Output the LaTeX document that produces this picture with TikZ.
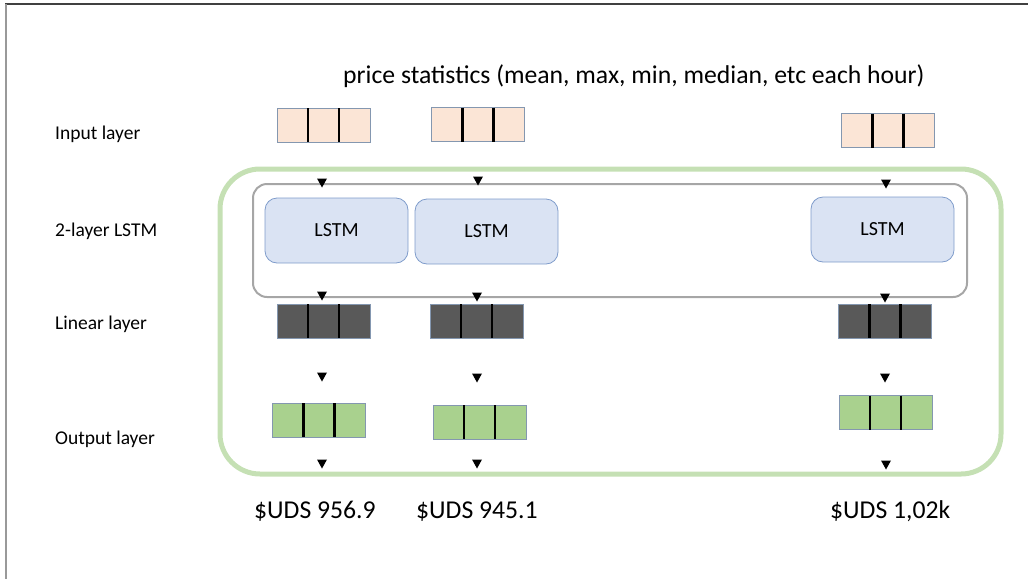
\documentclass[tikz,border=0pt]{standalone}
\usepackage{fontspec}
\setmainfont{Carlito}
\usetikzlibrary{calc}
\definecolor{peach}{HTML}{FBE5D6}
\definecolor{cellb}{HTML}{8497B0}
\definecolor{darkc}{HTML}{595959}
\definecolor{outg}{HTML}{A9D18E}
\definecolor{lstmf}{HTML}{DAE3F3}
\definecolor{lstmb}{HTML}{7F9CCB}
\definecolor{frameg}{HTML}{C5E0B4}
\definecolor{innerg}{HTML}{A6A6A6}
\tikzset{
  cell/.style={draw=cellb, line width=0.8pt, inner sep=0pt, outer sep=0pt, minimum width=93pt, minimum height=34pt},
  inbox/.style={cell, fill=peach},
  linbox/.style={cell, fill=darkc},
  outbox/.style={cell, fill=outg},
  lstm/.style={draw=lstmb, fill=lstmf, rounded corners=12pt, line width=0.8pt, inner sep=0pt, minimum width=143pt, minimum height=65pt, font=\fontsize{20}{23}\selectfont},
  lab/.style={anchor=base west, inner sep=0pt, font=\fontsize{19.5}{23}\selectfont},
  big/.style={anchor=base west, inner sep=0pt, font=\fontsize{25.7}{29}\selectfont},
  divider/.style={line width=2.2pt, black},
  tip/.style={fill=black}
}
\newcommand\cells[1]{%
  \draw[divider] ($(#1.north west)!1/3!(#1.north east)$) -- ($(#1.south west)!1/3!(#1.south east)$);
  \draw[divider] ($(#1.north west)!2/3!(#1.north east)$) -- ($(#1.south west)!2/3!(#1.south east)$);}
\newcommand\tri[2]{\fill[tip, shift={(#1,#2)}] (-5,-4.5) -- (5,-4.5) -- (0,4.5) -- cycle;}
\begin{document}
\begin{tikzpicture}[x=1pt, y=-1pt]
\useasboundingbox (0,0) rectangle (1028,579);
% page frame
\draw[line width=1.5pt, black!75] (5,4) -- (1028,4);
\draw[line width=1.2pt, black!40] (6,4) -- (6,579);

% title
\node[big] (title) at (343,83) {price statistics (mean, max, min, median, etc each hour)};

% row labels
\node[lab] (lin) at (55,139) {Input layer};
\node[lab] (llstm) at (55,236) {2-layer LSTM};
\node[lab] (llin) at (55,329) {Linear layer};
\node[lab] (lout) at (55,444) {Output layer};

% outer green rounded rectangle
\draw[frameg, line width=5pt, rounded corners=40pt] (220,169) rectangle (1001,474);
% inner gray rounded rectangle
\draw[innerg, line width=2pt, rounded corners=14pt] (253,184) rectangle (967,297);

% input boxes
\node[inbox] (i1) at (323.5,125) {}; \cells{i1}
\node[inbox] (i2) at (478,124.5) {}; \cells{i2}
\node[inbox] (i3) at (888,130.5) {}; \cells{i3}

% LSTM boxes
\node[lstm] (m1) at (336.5,230.5) {LSTM};
\node[lstm] (m2) at (486.5,231.5) {LSTM};
\node[lstm] (m3) at (882.5,229.5) {LSTM};

% linear boxes
\node[linbox] (l1) at (323.5,321) {}; \cells{l1}
\node[linbox] (l2) at (476.5,321) {}; \cells{l2}
\node[linbox] (l3) at (885,321) {}; \cells{l3}

% output boxes
\node[outbox] (o1) at (319,420) {}; \cells{o1}
\node[outbox] (o2) at (479.5,422) {}; \cells{o2}
\node[outbox] (o3) at (885.5,412.5) {}; \cells{o3}

% arrow tips
\tri{322}{183}\tri{322}{296}\tri{322}{377}\tri{322}{464}
\tri{478}{181}\tri{477}{297}\tri{477}{378}\tri{477}{464}
\tri{886}{184}\tri{885}{298}\tri{885}{378}\tri{886}{465}

% results
\node[big] (r1) at (254,518) {\$UDS 956.9};
\node[big] (r2) at (416,518) {\$UDS 945.1};
\node[big] (r3) at (830,518) {\$UDS 1,02k};
\end{tikzpicture}
\end{document}
